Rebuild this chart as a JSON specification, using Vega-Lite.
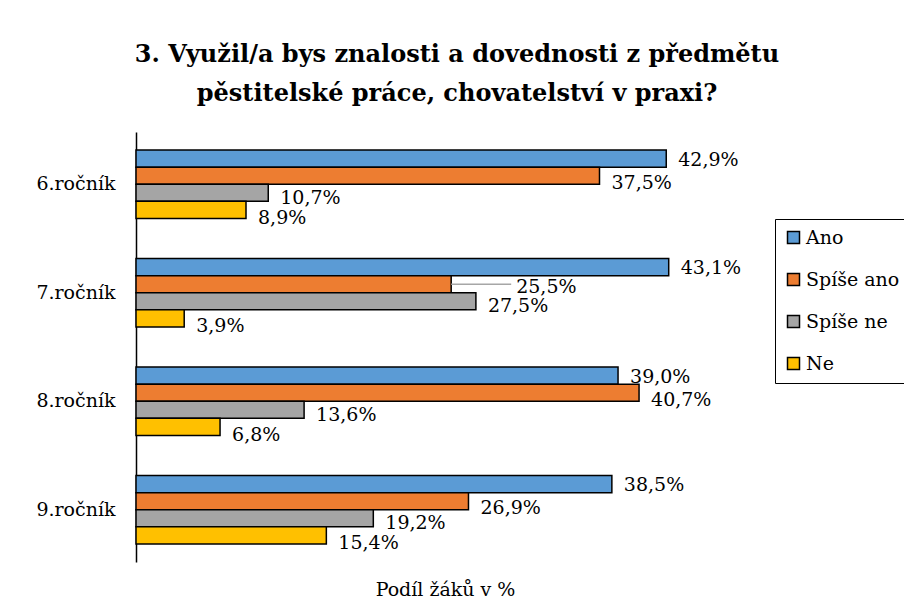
{
  "$schema": "https://vega.github.io/schema/vega-lite/v6.json",
  "width": 618,
  "height": 430,
  "autosize": {"type": "none"},
  "padding": {"left": 136, "top": 132, "right": 150, "bottom": 47},
  "background": "white",
  "title": {
    "text": ["3. Využil/a bys znalosti a dovednosti z předmětu", "pěstitelské práce, chovatelství v praxi?"],
    "font": "DejaVu Serif",
    "fontSize": 24,
    "fontWeight": "bold",
    "color": "black",
    "lineHeight": 39,
    "anchor": "middle",
    "offset": 26,
    "dx": 12
  },
  "data": {
    "values": [
      {"grade": "6.ročník", "series": "Ano", "value": 42.9},
      {"grade": "6.ročník", "series": "Spíše ano", "value": 37.5},
      {"grade": "6.ročník", "series": "Spíše ne", "value": 10.7},
      {"grade": "6.ročník", "series": "Ne", "value": 8.9},
      {"grade": "7.ročník", "series": "Ano", "value": 43.1},
      {"grade": "7.ročník", "series": "Spíše ano", "value": 25.5},
      {"grade": "7.ročník", "series": "Spíše ne", "value": 27.5},
      {"grade": "7.ročník", "series": "Ne", "value": 3.9},
      {"grade": "8.ročník", "series": "Ano", "value": 39.0},
      {"grade": "8.ročník", "series": "Spíše ano", "value": 40.7},
      {"grade": "8.ročník", "series": "Spíše ne", "value": 13.6},
      {"grade": "8.ročník", "series": "Ne", "value": 6.8},
      {"grade": "9.ročník", "series": "Ano", "value": 38.5},
      {"grade": "9.ročník", "series": "Spíše ano", "value": 26.9},
      {"grade": "9.ročník", "series": "Spíše ne", "value": 19.2},
      {"grade": "9.ročník", "series": "Ne", "value": 15.4}
    ]
  },
  "encoding": {
    "y": {
      "field": "grade",
      "type": "nominal",
      "sort": ["6.ročník", "7.ročník", "8.ročník", "9.ročník"],
      "scale": {"paddingInner": 0.37, "paddingOuter": 0.167},
      "axis": {
        "title": null,
        "domain": true,
        "domainColor": "black",
        "domainWidth": 1.5,
        "ticks": false,
        "labelFont": "DejaVu Serif",
        "labelFontSize": 19,
        "labelColor": "black",
        "labelPadding": 21
      }
    },
    "yOffset": {
      "field": "series",
      "type": "nominal",
      "sort": ["Ano", "Spíše ano", "Spíše ne", "Ne"],
      "scale": {"paddingInner": 0, "paddingOuter": 0}
    },
    "x": {
      "field": "value",
      "type": "quantitative",
      "scale": {"domain": [0, 50], "nice": false},
      "axis": {
        "title": "Podíl žáků v %",
        "titleFont": "DejaVu Serif",
        "titleFontSize": 19,
        "titleFontWeight": "normal",
        "titleColor": "black",
        "titlePadding": 18,
        "domain": false,
        "ticks": false,
        "labels": false,
        "grid": false
      }
    }
  },
  "layer": [
    {
      "mark": {"type": "bar", "stroke": "black", "strokeWidth": 1.5, "cornerRadius": 0},
      "encoding": {
        "color": {
          "field": "series",
          "type": "nominal",
          "sort": ["Ano", "Spíše ano", "Spíše ne", "Ne"],
          "scale": {
            "domain": ["Ano", "Spíše ano", "Spíše ne", "Ne"],
            "range": ["#5B9BD5", "#ED7D31", "#A5A5A5", "#FFC000"]
          },
          "legend": {
            "title": null,
            "orient": "none",
            "legendX": 639,
            "legendY": 87,
            "symbolType": "square",
            "symbolSize": 144,
            "symbolStrokeColor": "black",
            "symbolStrokeWidth": 1.5,
            "symbolOpacity": 1,
            "labelFont": "DejaVu Serif",
            "labelFontSize": 19,
            "labelColor": "black",
            "labelOffset": 3,
            "rowPadding": 22,
            "padding": 9,
            "strokeColor": "black",
            "fillColor": "white",
            "labelLimit": 200
          }
        }
      }
    },
    {
      "transform": [{"filter": "datum.series == 'Ano'"}],
      "mark": {"type": "text", "align": "left", "baseline": "middle", "dx": 12, "dy": 1,
        "font": "DejaVu Serif", "fontSize": 19, "color": "black"},
      "encoding": {"text": {"field": "value", "type": "quantitative", "format": "$.1f"}}
    },
    {
      "transform": [{"filter": "datum.series == 'Spíše ano' && datum.grade != '7.ročník'"}],
      "mark": {"type": "text", "align": "left", "baseline": "middle", "dx": 12, "dy": 7,
        "font": "DejaVu Serif", "fontSize": 19, "color": "black"},
      "encoding": {"text": {"field": "value", "type": "quantitative", "format": "$.1f"}}
    },
    {
      "transform": [{"filter": "datum.series == 'Spíše ne'"}],
      "mark": {"type": "text", "align": "left", "baseline": "middle", "dx": 12, "dy": 5,
        "font": "DejaVu Serif", "fontSize": 19, "color": "black"},
      "encoding": {"text": {"field": "value", "type": "quantitative", "format": "$.1f"}}
    },
    {
      "transform": [{"filter": "datum.series == 'Ne'"}],
      "mark": {"type": "text", "align": "left", "baseline": "middle", "dx": 12, "dy": 8,
        "font": "DejaVu Serif", "fontSize": 19, "color": "black"},
      "encoding": {"text": {"field": "value", "type": "quantitative", "format": "$.1f"}}
    },
    {
      "transform": [{"filter": "datum.series == 'Spíše ano' && datum.grade == '7.ročník'"}],
      "mark": {"type": "rule", "color": "#A6A6A6", "strokeWidth": 1.5, "x2Offset": 60, "yOffset": 0, "y2Offset": 3},
      "encoding": {"x2": {"field": "value"}}
    },
    {
      "transform": [{"filter": "datum.series == 'Spíše ano' && datum.grade == '7.ročník'"}],
      "mark": {"type": "text", "align": "left", "baseline": "middle", "dx": 65, "dy": 3,
        "font": "DejaVu Serif", "fontSize": 19, "color": "black"},
      "encoding": {"text": {"field": "value", "type": "quantitative", "format": "$.1f"}}
    }
  ],
  "config": {
    "view": {"stroke": null},
    "locale": {
      "number": {"decimal": ",", "thousands": " ", "grouping": [3], "currency": ["", "%"]}
    }
  }
}
